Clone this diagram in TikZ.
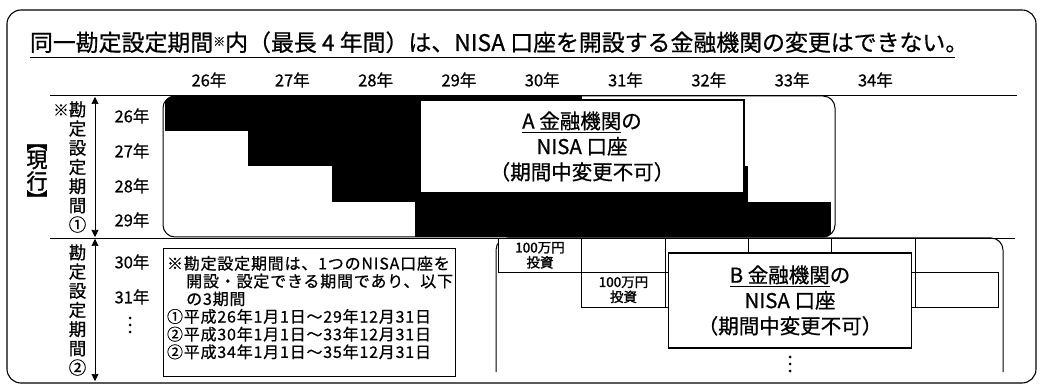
\documentclass[tikz,border=0pt]{standalone}
\usepackage{fontspec}
\setmainfont{Noto Sans CJK JP}[FakeBold=0.7]
\newfontfamily\jpb[FakeBold=1.6]{Noto Sans CJK JP}
\usetikzlibrary{arrows.meta}
\begin{document}
\begin{tikzpicture}[x=1pt,y=-1pt,
  every node/.style={inner sep=0pt, outer sep=0pt},
  yr/.style={font=\fontsize{16.5}{16.5}\selectfont},
  outerframe/.style={line width=1.1pt, rounded corners=14pt},
  rule/.style={line width=0.8pt},
  acct/.style={draw, line width=1.3pt, fill=white, align=center, font=\fontsize{20.5}{25.5}\selectfont},
  region/.style={line width=1pt, rounded corners=12pt},
  cell/.style={draw, line width=0.8pt, fill=white, minimum width=83.3pt, minimum height=34.5pt, align=center, font=\jpb\fontsize{13.5}{15}\selectfont},
  vtext/.style={font=\fontsize{17.5}{19.2}\selectfont, align=center},
  period/.style={line width=0.6pt, {Triangle[length=7pt,width=7pt]}-{Triangle[length=7pt,width=7pt]}},
  vdot/.style={fill, circle, minimum size=3pt}
]
\useasboundingbox (0,0) rectangle (1041,387);
% outer frame
\draw[outerframe] (7,10) rectangle (1036,383);
% title
\node[anchor=base west, font=\fontsize{22.9}{22.9}\selectfont] (title) at (30,51)
  {同一勘定設定期間{\fontsize{12}{12}\selectfont\raisebox{5pt}{※}}内（最長 4 年間）は、NISA 口座を開設する金融機関の変更はできない。};
\draw[rule] (30,57) -- (955,57);
% year headers
\foreach \yy [count=\i from 0] in {26,...,34}
  \node[yr] (h\yy) at ({209+83.3*\i},80) {\yy 年};
\draw[rule] (50,95) -- (1017,95);
\draw[rule] (50,238) -- (1015,238);
% A region
\begin{scope}
  \clip[rounded corners=12pt] (163,96) rectangle (835,237);
  \foreach \r in {0,...,3}
    \fill ({165+83.3*\r},{96+35.25*\r}) rectangle ({165+83.3*(\r+5)},{96+35.25*(\r+1)});
\end{scope}
\draw[region] (163,96) rectangle (835,237);
\node[acct, minimum width=324pt, minimum height=93pt] (abox) at (582,146.5)
  {\underline{A 金融機関}の\\NISA 口座\\（期間中変更不可）};
% row labels, top
\node[yr] (r26) at (132,116) {26年};
\node[yr] (r27) at (132,151) {27年};
\node[yr] (r28) at (132,186) {28年};
\node[yr] (r29) at (132,220) {29年};
% left labels
\node[font=\jpb\fontsize{21}{21}\selectfont, rotate=-90] (brt) at (37,141) {【};
\node[font=\jpb\fontsize{21}{21}\selectfont] (gen) at (37,160) {現};
\node[font=\jpb\fontsize{21}{21}\selectfont] (kou) at (37,181) {行};
\node[font=\jpb\fontsize{21}{21}\selectfont, rotate=-90] (brb) at (37,200) {】};
\node[font=\fontsize{15.5}{15.5}\selectfont] (kome) at (61,110) {※};
\node[vtext] (p1) at (77.5,167) {勘\\定\\設\\定\\期\\間\\①};
\node[vtext] (p2) at (77.5,310) {勘\\定\\設\\定\\期\\間\\②};
% period arrows
\coordinate (p1t) at (95,97);
\coordinate (p1b) at (95,237);
\coordinate (p2t) at (95,239);
\coordinate (p2b) at (95,381);
\draw[period] (p1t) -- (p1b);
\draw[period] (p2t) -- (p2b);
% row labels, bottom
\node[yr] (r30) at (132,262) {30年};
\node[yr] (r31) at (132,297) {31年};
\node[vdot] (ld1) at (130,318) {};
\node[vdot] (ld2) at (130,325) {};
\node[vdot] (ld3) at (130,332) {};
% note box
\node[draw, line width=0.9pt, minimum width=292pt, minimum height=128pt, anchor=north west] (note) at (163,248) {};
\node[anchor=north west, align=left, font=\fontsize{16}{17.7}\selectfont\addfontfeature{LetterSpace=5}] (notetext) at (167,256)
  {※勘定設定期間は、1つのNISA口座を\\
   \hspace*{1.2em}開設・設定できる期間であり、以下\\
   \hspace*{1.2em}の3期間\\
   ①平成26年1月1日～29年12月31日\\
   ②平成30年1月1日～33年12月31日\\
   ②平成34年1月1日～35年12月31日};
% B region
\draw[region] (496,372) -- (496,238) -- (1003,238) -- (1003,372);
\node[cell] (c30a) at (540,255.3) {100万円\\投資};
\node[cell] (c30b) at (623.5,255.3) {};
\node[cell] (c30c) at (706.8,255.3) {};
\node[cell] (c30d) at (790.1,255.3) {};
\node[cell] (c30e) at (873.4,255.3) {};
\node[cell] (c31a) at (623.5,289.8) {100万円\\投資};
\node[cell] (c31b) at (706.8,289.8) {};
\node[cell] (c31c) at (790.1,289.8) {};
\node[cell] (c31d) at (873.4,289.8) {};
\node[cell] (c31e) at (956.7,289.8) {};
\node[acct, minimum width=243pt, minimum height=95pt] (bbox) at (790,300.5)
  {\underline{B 金融機関}の\\NISA 口座\\（期間中変更不可）};
\node[vdot] (bd1) at (790,357) {};
\node[vdot] (bd2) at (790,364) {};
\node[vdot] (bd3) at (790,371) {};
\end{tikzpicture}
\end{document}
